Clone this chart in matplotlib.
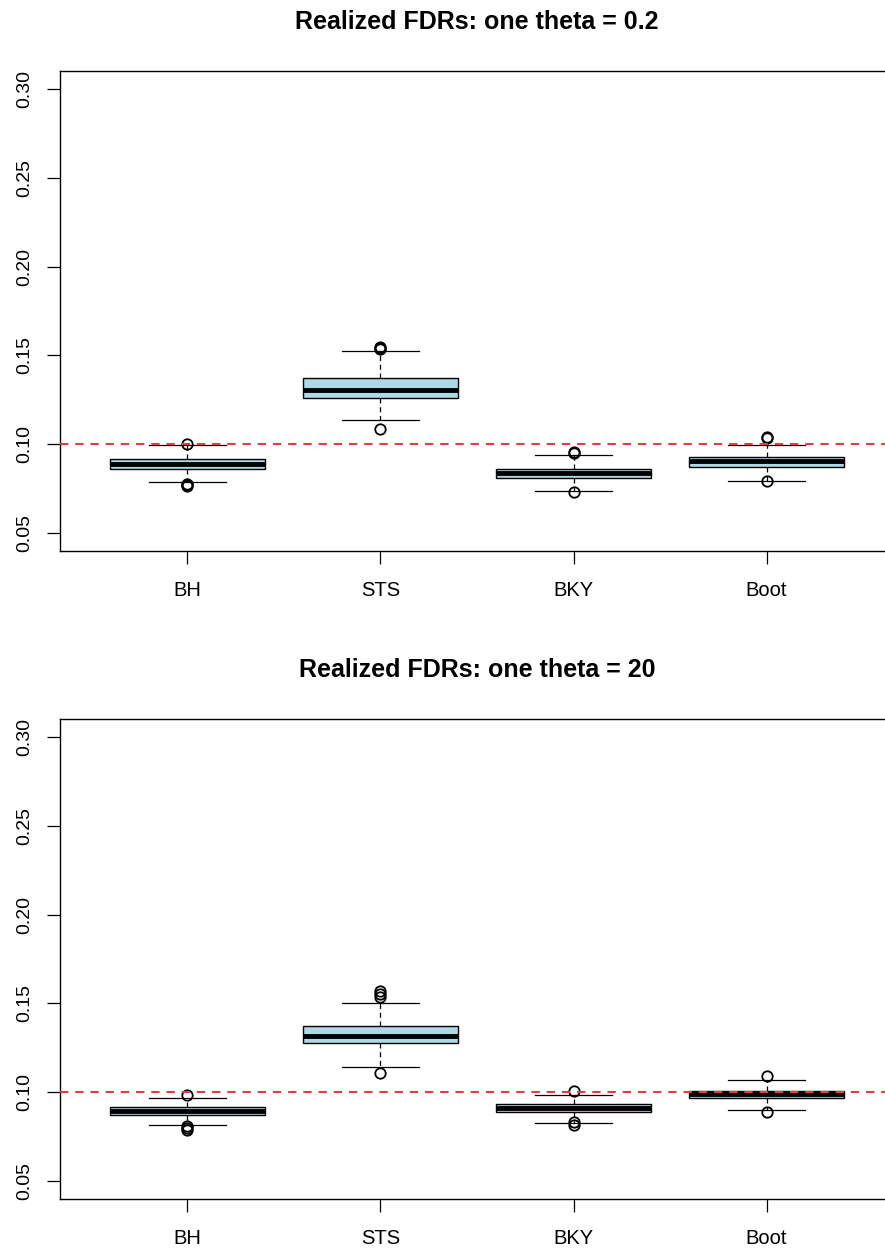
import numpy as np
import matplotlib
matplotlib.use("Agg")
import matplotlib.pyplot as plt

plt.rcParams['font.family'] = ['Liberation Sans', 'DejaVu Sans']

methods = ["BH", "STS", "BKY", "Boot"]
titles = ["Realized FDRs: one theta = 0.2", "Realized FDRs: one theta = 20"]

# theta = 0.2
med_02 = [0.0891, 0.1306, 0.0839, 0.0906]
q1_02 = [0.0863, 0.1261, 0.0812, 0.0873]
q3_02 = [0.0919, 0.1371, 0.0862, 0.0929]
lo_02 = [0.0790, 0.1135, 0.0738, 0.0796]
hi_02 = [0.0998, 0.1525, 0.0940, 0.0999]
fliers_02 = [[0.1002, 0.0776, 0.0771, 0.0768],
             [0.1545, 0.1541, 0.1537, 0.1089],
             [0.0957, 0.0951, 0.0731],
             [0.1041, 0.1034, 0.0795]]

# theta = 20
med_20 = [0.0893, 0.1319, 0.0912, 0.0989]
q1_20 = [0.0870, 0.1278, 0.0891, 0.0966]
q3_20 = [0.0915, 0.1375, 0.0934, 0.1009]
lo_20 = [0.0814, 0.1144, 0.0829, 0.0900]
hi_20 = [0.0968, 0.1503, 0.0985, 0.1071]
fliers_20 = [[0.0983, 0.0810, 0.0800, 0.0790],
             [0.1572, 0.1555, 0.1537, 0.1107],
             [0.1006, 0.0831, 0.0814],
             [0.1090, 0.0887]]

target_fdr = 0.10
yticks = [0.05, 0.10, 0.15, 0.20, 0.25, 0.30]


def make_stats(med, q1, q3, lo, hi, fl):
    out = []
    for i in range(len(methods)):
        out.append(dict(med=med[i], q1=q1[i], q3=q3[i], whislo=lo[i],
                        whishi=hi[i], fliers=fl[i], label=methods[i]))
    return out


panels = [make_stats(med_02, q1_02, q3_02, lo_02, hi_02, fliers_02),
          make_stats(med_20, q1_20, q3_20, lo_20, hi_20, fliers_20)]

fig = plt.figure(figsize=(8.85, 12.52), dpi=100)
# right edge of the plot box runs past the image edge, as in the original
rects = [[0.0678, 0.5599, 0.9424, 0.3834], [0.0678, 0.0423, 0.9424, 0.3834]]

for rect, stats, title in zip(rects, panels, titles):
    ax = fig.add_axes(rect)
    ax.bxp(stats, positions=[1, 2, 3, 4], widths=0.8, capwidths=0.4,
           patch_artist=True,
           boxprops=dict(facecolor='#ADD8E6', edgecolor='black', linewidth=1.0),
           medianprops=dict(color='black', linewidth=3.5, solid_capstyle='butt'),
           whiskerprops=dict(color='black', linewidth=0.9, linestyle=(0, (4, 3))),
           capprops=dict(color='black', linewidth=0.9),
           flierprops=dict(marker='o', markersize=7.5, markerfacecolor='none',
                           markeredgecolor='black', markeredgewidth=1.3))
    ax.axhline(target_fdr, color='#E0403A', linewidth=1.5, linestyle=(0, (4, 3.3)),
               zorder=5)
    ax.set_xlim(0.34, 4.66)
    ax.set_ylim(0.04, 0.31)
    ax.set_yticks(yticks)
    ax.set_yticklabels([f"{v:.2f}" for v in yticks], rotation=90, va='center',
                       fontsize=14)
    ax.set_xticks([1, 2, 3, 4])
    ax.set_xticklabels(methods, fontsize=14.5)
    ax.tick_params(axis='both', length=9.5, width=0.9, color='black')
    ax.tick_params(axis='y', pad=10)
    ax.tick_params(axis='x', pad=12)
    for s in ax.spines.values():
        s.set_linewidth(1.0)
    ax.set_title(title, fontsize=18, fontweight='bold', pad=30)

plt.savefig('out.png', dpi=100)
